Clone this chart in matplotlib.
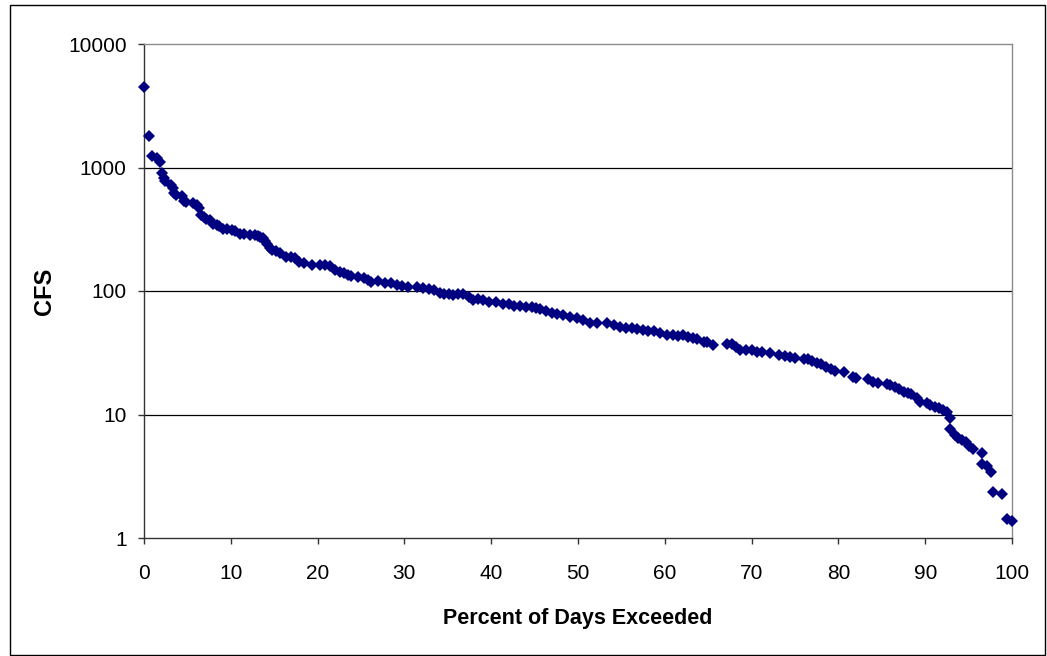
import matplotlib
matplotlib.use("Agg")
import matplotlib.pyplot as plt
from matplotlib.patches import Rectangle

# flow duration curve
pct_exceeded = [
    0.0, 0.6, 0.9, 1.5, 1.8, 2.1, 2.3, 2.4, 3.1, 3.3, 3.5, 3.7, 4.4, 4.6, 4.8,
    5.7, 6.1, 6.3, 6.6, 6.9, 7.2, 7.6, 8.0, 8.4, 8.6, 9.1, 9.6, 10.1, 10.5,
    11.1, 11.5, 12.2, 12.8, 13.1, 13.4, 13.7, 13.9, 14.2, 14.5, 14.7, 15.2,
    15.7, 16.4, 16.9, 17.4, 17.9, 18.4, 19.3, 20.3, 20.9, 21.4, 22.0, 22.6,
    23.0, 23.5, 23.9, 24.7, 25.3, 25.8, 26.2, 27.0, 27.8, 28.4, 29.1, 29.7,
    30.4, 31.4, 32.1, 32.8, 33.4, 34.1, 34.6, 35.1, 35.6, 36.2, 36.8, 37.4,
    37.9, 38.5, 39.1, 39.8, 40.5, 41.4, 42.0, 42.6, 43.3, 44.0, 44.7, 45.2,
    45.6, 46.3, 47.0, 47.6, 48.3, 49.1, 49.9, 50.6, 51.4, 52.2, 53.3, 54.1,
    54.8, 55.5, 56.2, 56.8, 57.5, 58.1, 58.7, 59.4, 60.2, 60.9, 61.5, 62.1,
    62.7, 63.2, 63.7, 64.5, 64.9, 65.6, 67.2, 67.7, 68.2, 68.7, 69.4, 70.0,
    70.6, 71.2, 72.1, 73.1, 73.8, 74.4, 75.0, 76.0, 76.5, 77.0, 77.5, 78.0,
    78.6, 79.1, 79.6, 80.6, 81.7, 82.0, 83.4, 84.0, 84.6, 85.6, 86.0, 86.5,
    87.0, 87.5, 88.0, 88.4, 89.0, 89.4, 90.2, 90.6, 91.1, 91.6, 92.1, 92.5,
    92.8, 92.9, 93.4, 93.8, 94.2, 94.7, 95.1, 95.5, 96.6, 96.5, 97.1, 97.6,
    97.8, 98.8, 99.4, 100.0,
]
cfs = [
    4500, 1800, 1240, 1200, 1100, 900, 820, 780, 720, 680, 620, 600, 590, 540,
    530, 516, 500, 470, 412, 400, 385, 376, 350, 340, 336, 316, 318, 312, 305,
    288, 290, 284, 283, 278, 272, 268, 255, 240, 225, 215, 210,
    202, 190, 188, 184, 172, 168, 163, 163, 163, 160, 148, 142,
    139, 135, 132, 130, 127, 122, 119, 120, 117, 116, 112, 110,
    108, 107, 106, 103, 101, 96, 95, 95, 93, 95, 94, 90,
    85, 86, 85, 82, 81, 78.5, 78, 76, 75.6, 74, 74, 73,
    72, 69, 66, 65, 64, 62, 60, 58, 55.4, 55, 55, 53,
    51.4, 50, 50, 49, 48, 47.5, 47, 46, 44, 44, 43.5, 44,
    42.5, 41.5, 40.6, 39, 38.5, 36.5, 37.3, 37.2, 35.5, 33.3, 33.5, 33,
    32.3, 32, 31.3, 30.3, 30, 29.4, 28.5, 28, 28, 27, 26, 25.5,
    24.4, 23.5, 22.4, 22, 20, 19.6, 19.3, 18.4, 18, 17.7, 17.2, 16.8,
    16, 15.3, 15, 14.7, 13.6, 12.7, 12.3, 11.9, 11.6, 11.2, 10.9, 10.5,
    9.3, 7.6, 6.8, 6.5, 6.2, 6.0, 5.6, 5.3, 4.9, 4.0, 3.8, 3.4,
    2.35, 2.27, 1.43, 1.38,
]
x_ticks = [0, 10, 20, 30, 40, 50, 60, 70, 80, 90, 100]
y_ticks = [1, 10, 100, 1000, 10000]

NAVY = "#000080"
FONT = "Liberation Sans"

fig = plt.figure(figsize=(10.47, 6.56), dpi=100, facecolor="white")
fig.patches.append(Rectangle((10 / 1047, 1 / 656), 1035 / 1047, 650 / 656,
                             transform=fig.transFigure, fill=False,
                             edgecolor="black", linewidth=1.0))

ax = fig.add_axes([144 / 1047, 118 / 656, 868 / 1047, 494 / 656])
ax.set_yscale("log")
ax.set_xlim(0, 100)
ax.set_ylim(1, 10000)

for yv in y_ticks[1:-1]:
    ax.axhline(yv, color="black", linewidth=0.9, zorder=1)

ax.plot(pct_exceeded, cfs, linestyle="none", marker="D", markersize=6.3,
        color=NAVY, markeredgewidth=0, zorder=3, clip_on=False)

ax.spines["left"].set_color("#333333")
ax.spines["bottom"].set_color("#333333")
ax.spines["top"].set_color("#8c8c8c")
ax.spines["right"].set_color("#8c8c8c")
for s in ax.spines.values():
    s.set_linewidth(1.0)

ax.set_xticks(x_ticks)
ax.set_xticklabels([str(v) for v in x_ticks])
ax.set_yticks(y_ticks)
ax.set_yticklabels([str(v) for v in y_ticks])
ax.yaxis.set_minor_locator(matplotlib.ticker.NullLocator())
ax.tick_params(direction="out", length=4.5, width=1.0, color="#333333",
               labelsize=15, pad=8)
ax.tick_params(axis="x", pad=14.5)
for lab in ax.get_xticklabels() + ax.get_yticklabels():
    lab.set_fontfamily(FONT)

ax.set_xlabel("Percent of Days Exceeded", fontsize=15.5, fontweight="bold",
              fontfamily=FONT, labelpad=18)
ax.set_ylabel("CFS", fontsize=17, fontweight="bold", fontfamily=FONT,
              labelpad=9)

fig.savefig("out.png", dpi=100, facecolor="white")
